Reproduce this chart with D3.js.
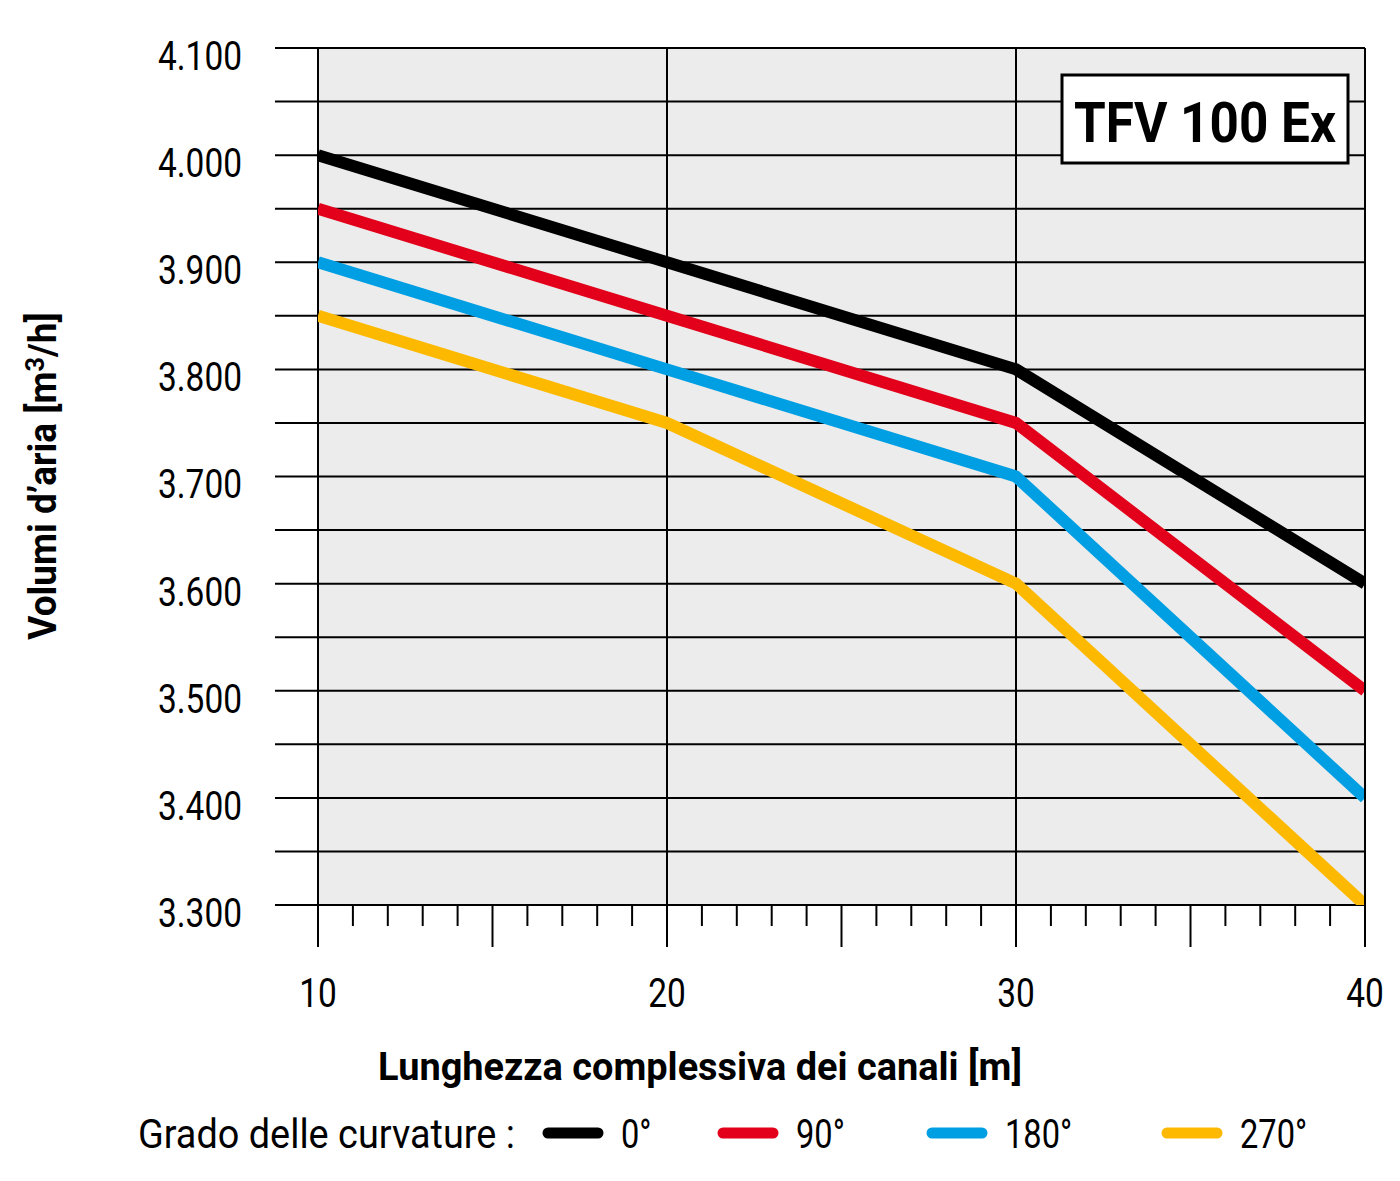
<!DOCTYPE html>
<html><head><meta charset="utf-8">
<script src="https://cdn.jsdelivr.net/npm/d3@7"></script>
<style>
body{margin:0;background:#fff;}
text{font-family:Roboto,"Liberation Sans",sans-serif;}
</style></head>
<body><svg id="c" width="1400" height="1181"></svg>
<script>
const lengths = [10, 20, 30, 40];
const seriesNames = ["0°", "90°", "180°", "270°"];
const s0 = [4000, 3900, 3800, 3600];
const s90 = [3950, 3850, 3750, 3500];
const s180 = [3900, 3800, 3700, 3400];
const s270 = [3850, 3750, 3600, 3300];
const yTicks = [3300, 3400, 3500, 3600, 3700, 3800, 3900, 4000, 4100];
const yTickLabels = ["3.300","3.400","3.500","3.600","3.700","3.800","3.900","4.000","4.100"];
const xTickLabels = ["10","20","30","40"];
const colors = ["#000000", "#e2001a", "#009fe3", "#fdb900"];
const series = [s0, s90, s180, s270];

const svg = d3.select("#c");
const L = 318, R = 1365, T = 48, B = 905;
const x = d3.scaleLinear().domain([10, 40]).range([L, R]);
const y = d3.scaleLinear().domain([3300, 4100]).range([B, T]);

// horizontal condensing helper (the reference uses a condensed typeface)
function squeeze(sel, k) {
  sel.each(function () {
    const tx = +this.getAttribute("x"), ty = +this.getAttribute("y");
    const a = this.getAttribute("text-anchor") || "start";
    this.setAttribute("transform", `translate(${tx},${ty}) scale(${k},1) translate(${-tx},${-ty})`);
  });
}
function fitK(sel, w) { return w / sel.node().getComputedTextLength(); }

svg.append("rect").attr("x", L).attr("y", T).attr("width", R - L).attr("height", B - T).attr("fill", "#ebeceb");

const grid = d3.range(3300, 4101, 50);
svg.append("g").selectAll("line").data(grid).join("line")
  .attr("x1", 275).attr("x2", R).attr("y1", d => y(d)).attr("y2", d => y(d))
  .attr("stroke", "#000").attr("stroke-width", 2);

svg.append("g").selectAll("line").data(lengths).join("line")
  .attr("x1", d => x(d)).attr("x2", d => x(d)).attr("y1", T).attr("y2", 947)
  .attr("stroke", "#000").attr("stroke-width", 2);
const ticks = d3.range(10, 41, 1);
svg.append("g").selectAll("line").data(ticks.filter(t => t % 10 !== 0)).join("line")
  .attr("x1", d => x(d)).attr("x2", d => x(d)).attr("y1", B).attr("y2", d => d % 5 === 0 ? 947 : 926)
  .attr("stroke", "#000").attr("stroke-width", 2);

svg.append("clipPath").attr("id", "clip").append("rect").attr("x", L).attr("y", T).attr("width", R - L).attr("height", B - T);

const line = d3.line().x((d, i) => x(lengths[i])).y(d => y(d));
svg.append("g").attr("clip-path", "url(#clip)").selectAll("path").data(series.slice().reverse()).join("path")
  .attr("d", d => line(d)).attr("fill", "none")
  .attr("stroke", (d, i) => colors[3 - i]).attr("stroke-width", 12).attr("stroke-linejoin", "miter");

svg.append("line").attr("x1", R).attr("x2", R).attr("y1", T).attr("y2", 947).attr("stroke", "#000").attr("stroke-width", 2);

// y tick labels
const yl = svg.append("g").selectAll("text").data(yTicks).join("text")
  .attr("x", 242).attr("y", d => y(d) + 22).attr("text-anchor", "end")
  .attr("font-size", 41).text((d, i) => yTickLabels[i]);
const kReg = fitK(yl.filter((d, i) => i === 0), 84);
squeeze(yl, kReg);

const xl = svg.append("g").selectAll("text").data(lengths).join("text")
  .attr("x", d => x(d)).attr("y", 1007).attr("text-anchor", "middle")
  .attr("font-size", 41).text((d, i) => xTickLabels[i]);
squeeze(xl, kReg);

const xt = svg.append("text").attr("x", 700).attr("y", 1080).attr("text-anchor", "middle")
  .attr("font-size", 39).attr("font-weight", "bold").text("Lunghezza complessiva dei canali [m]");
const kBold = fitK(xt, 644);
squeeze(xt, kBold);

const yt = svg.append("text").attr("x", 0).attr("y", 0).attr("text-anchor", "middle")
  .attr("font-size", 38).attr("font-weight", "bold")
  .html('Volumi d’aria [m<tspan dy="-12" font-size="26">3</tspan><tspan dy="12">/h]</tspan>');
yt.attr("transform", `translate(56,476) rotate(-90) scale(${kBold},1)`);

svg.append("rect").attr("x", 1062).attr("y", 75).attr("width", 286).attr("height", 88)
  .attr("fill", "#fff").attr("stroke", "#000").attr("stroke-width", 3);
const tt = svg.append("text").attr("x", 1205).attr("y", 142).attr("text-anchor", "middle")
  .attr("font-size", 56).attr("font-weight", "bold").text("TFV 100 Ex");
squeeze(tt, fitK(tt, 262));

const lt = svg.append("text").attr("x", 138).attr("y", 1148).attr("font-size", 40).text("Grado delle curvature :");
squeeze(lt, fitK(lt, 377));
const legX = [543, 718, 927, 1162];
const leg = svg.append("g").selectAll("g").data(seriesNames).join("g");
leg.append("line").attr("x1", (d, i) => legX[i] + 5).attr("x2", (d, i) => legX[i] + 55)
  .attr("y1", 1133).attr("y2", 1133).attr("stroke", (d, i) => colors[i]).attr("stroke-width", 11).attr("stroke-linecap", "round");
const lg = leg.append("text").attr("x", (d, i) => legX[i] + 78).attr("y", 1148).attr("font-size", 40).text(d => d);
squeeze(lg, kReg);
</script></body></html>
